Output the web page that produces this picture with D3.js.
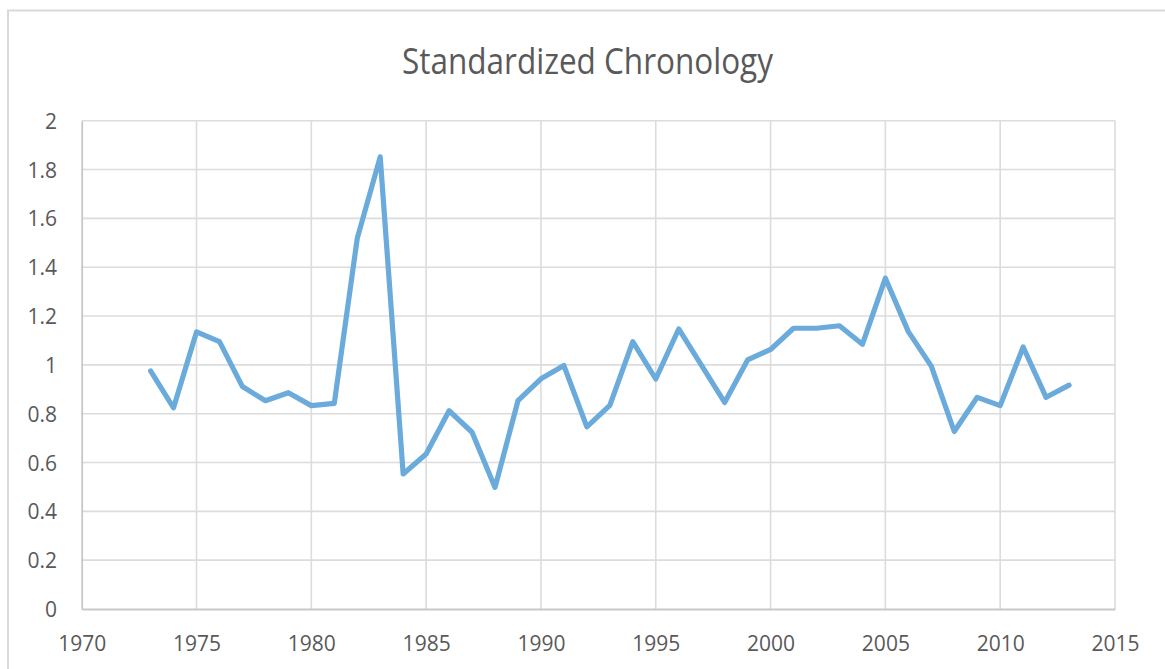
<!DOCTYPE html>
<html>
<head>
<meta charset="utf-8">
<script src="https://cdn.jsdelivr.net/npm/d3@7"></script>
<style>
  html, body { margin: 0; padding: 0; background: #ffffff; }
  svg { display: block; }
</style>
</head>
<body>
<svg id="chart" width="1165" height="669"></svg>
<script>
const chartTitle = "Standardized Chronology";
const years = [1973, 1974, 1975, 1976, 1977, 1978, 1979, 1980, 1981, 1982,
               1983, 1984, 1985, 1986, 1987, 1988, 1989, 1990, 1991, 1992,
               1993, 1994, 1995, 1996, 1997, 1998, 1999, 2000, 2001, 2002,
               2003, 2004, 2005, 2006, 2007, 2008, 2009, 2010, 2011, 2012, 2013];
const chronology = [0.975, 0.824, 1.135, 1.095, 0.911, 0.853, 0.886, 0.833, 0.842, 1.518,
                    1.852, 0.553, 0.635, 0.812, 0.724, 0.498, 0.853, 0.943, 0.997, 0.746,
                    0.834, 1.095, 0.942, 1.147, 0.997, 0.846, 1.020, 1.063, 1.150, 1.150,
                    1.160, 1.084, 1.355, 1.136, 0.995, 0.727, 0.867, 0.833, 1.073, 0.867, 0.917];
const xTicks = [1970, 1975, 1980, 1985, 1990, 1995, 2000, 2005, 2010, 2015];
const yTicks = [0, 0.2, 0.4, 0.6, 0.8, 1, 1.2, 1.4, 1.6, 1.8, 2];

(function () {
const svg = d3.select("#chart");
const textColor = "#595959";
const font = "'Open Sans', 'Noto Sans', sans-serif";

// chart border (right/bottom edges fall outside the picture)
svg.append("rect")
  .attr("x", 8).attr("y", 10.5)
  .attr("width", 1200).attr("height", 700)
  .attr("fill", "#ffffff")
  .attr("stroke", "#d9d9d9").attr("stroke-width", 2);

const pLeft = 81.7, pRight = 1115, pTop = 120.7, pBottom = 609;
const x = d3.scaleLinear().domain([1970, 2015]).range([pLeft, pRight]);
const y = d3.scaleLinear().domain([0, 2]).range([pBottom, pTop]);

// title
svg.append("text")
  .attr("x", (402 + 773) / 2).attr("y", 74)
  .attr("text-anchor", "middle")
  .attr("font-family", font).attr("font-size", 36)
  .attr("fill", textColor)
  .attr("textLength", 371).attr("lengthAdjust", "spacingAndGlyphs")
  .text(chartTitle);

// horizontal gridlines
svg.append("g").selectAll("line").data(yTicks.filter(d => d > 0)).join("line")
  .attr("x1", pLeft).attr("x2", pRight)
  .attr("y1", d => y(d)).attr("y2", d => y(d))
  .attr("stroke", "#dcdcdc").attr("stroke-width", 1.6);

// vertical gridlines
svg.append("g").selectAll("line").data(xTicks.filter(d => d > 1970)).join("line")
  .attr("x1", d => x(d)).attr("x2", d => x(d))
  .attr("y1", pTop).attr("y2", pBottom)
  .attr("stroke", "#dcdcdc").attr("stroke-width", 1.6);

// axes
const yAxis = d3.axisLeft(y).tickValues(yTicks).tickSize(0).tickPadding(0)
  .tickFormat(d => String(+d.toFixed(1)));
const gy = svg.append("g").attr("transform", `translate(${pLeft},0)`).call(yAxis);
gy.select(".domain").attr("stroke", "#c8c8c8").attr("stroke-width", 1.8);
gy.selectAll("text")
  .attr("x", 57 - pLeft).attr("dy", "0.36em")
  .attr("font-family", font).attr("font-size", 21)
  .attr("fill", textColor);

const xAxis = d3.axisBottom(x).tickValues(xTicks).tickSize(0).tickPadding(0)
  .tickFormat(d3.format("d"));
const gx = svg.append("g").attr("transform", `translate(0,${pBottom})`).call(xAxis);
gx.select(".domain").attr("stroke", "#c8c8c8").attr("stroke-width", 1.8);
gx.selectAll("text")
  .attr("y", 42).attr("dy", null)
  .attr("font-family", font).attr("font-size", 21)
  .attr("fill", textColor);

// series line
const data = years.map((yr, i) => ({ year: yr, value: chronology[i] }));
const line = d3.line().x(d => x(d.year)).y(d => y(d.value));
svg.append("path")
  .datum(data)
  .attr("d", line)
  .attr("fill", "none")
  .attr("stroke", "#6aabdc")
  .attr("stroke-width", 5.2)
  .attr("stroke-linejoin", "round")
  .attr("stroke-linecap", "round");
})();
</script>
</body>
</html>
